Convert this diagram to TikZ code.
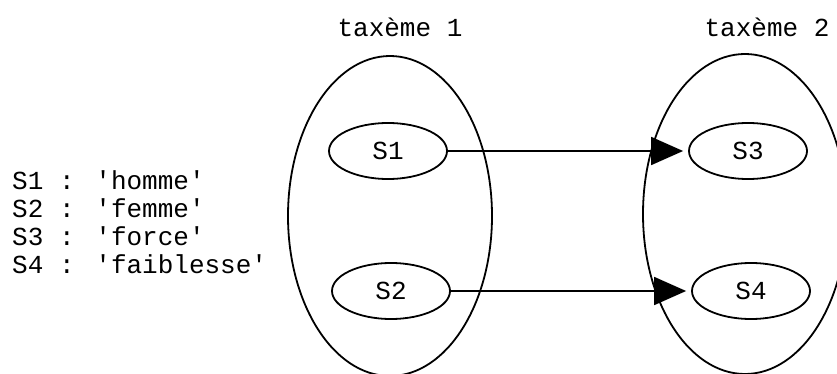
\documentclass[tikz,border=0pt]{standalone}
\usepackage{fontspec}
\newfontfamily\courfont{Liberation Mono}
\usetikzlibrary{shapes.geometric,arrows.meta}
\tikzset{
  txt/.style={font=\courfont\fontsize{26}{28}\selectfont, inner sep=0pt},
  sem/.style={draw, ellipse, line width=1.8pt, minimum width=118pt, minimum height=56pt, inner sep=0pt, txt},
  taxeme/.style={draw, ellipse, line width=1.8pt, minimum width=204pt, minimum height=320pt, inner sep=0pt},
  rel/.style={line width=1.8pt, -{Triangle[length=32pt,width=28pt]}, shorten >=5pt}
}
\begin{document}
\begin{tikzpicture}[x=1pt,y=-1pt]
\useasboundingbox (0,0) rectangle (837,374);
\node[taxeme] (T1) at (390,216) {};
\node[taxeme] (T2) at (745,214) {};
\node[txt] (L1) at (400,27) {taxème 1};
\node[txt] (L2) at (767,27) {taxème 2};
\node[sem] (S1) at (388,151) {S1};
\node[sem] (S2) at (391,291) {S2};
\node[sem] (S3) at (748,151) {S3};
\node[sem] (S4) at (751,291) {S4};
\draw[rel] (S1) -- (S3);
\draw[rel] (S2) -- (S4);
\node[txt, align=left, anchor=west] (legend) at (12,222) {S1 : 'homme'\\S2 : 'femme'\\S3 : 'force'\\S4 : 'faiblesse'};
\end{tikzpicture}
\end{document}
